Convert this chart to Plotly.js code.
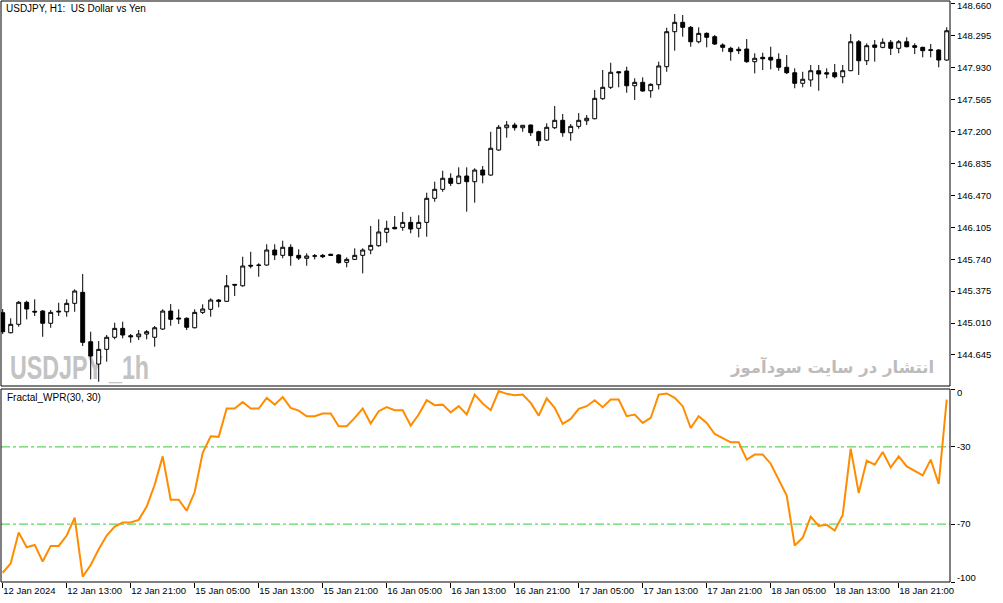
<!DOCTYPE html>
<html>
<head>
<meta charset="utf-8">
<script src="https://cdn.plot.ly/plotly-3.0.1.min.js"></script>
<style>html,body{margin:0;padding:0;background:#fff;}#chart{width:1003px;height:603px;}</style>
</head>
<body>
<div id="chart"></div>
<script>
// ---- data ----
const open = [145.128,144.899,144.995,145.247,145.144,145.147,145.007,145.136,145.139,145.235,
145.361,144.796,144.541,144.709,144.847,144.949,144.865,144.853,144.884,144.847,
144.941,145.147,145.067,145.064,144.956,145.132,145.167,145.273,145.258,145.452,
145.436,145.670,145.673,145.673,145.845,145.784,145.876,145.784,145.750,145.774,
145.784,145.796,145.788,145.704,145.738,145.784,145.845,145.894,146.047,146.104,
146.104,146.161,146.093,146.161,146.436,146.539,146.665,146.607,146.691,146.626,
146.759,146.702,146.988,147.243,147.274,147.243,147.274,147.197,147.102,147.243,
147.328,147.186,147.259,147.323,147.346,147.575,147.705,147.883,147.891,147.723,
147.762,147.666,147.735,147.941,148.341,148.448,148.391,148.226,148.322,148.284,
148.189,148.151,148.140,148.143,147.998,148.048,148.048,148.025,147.934,147.872,
147.751,147.789,147.895,147.872,147.872,147.826,147.895,148.226,148.009,148.189,
148.162,148.220,148.151,148.226,148.181,148.162,148.135,148.132,148.017];
const high = [145.170,145.064,145.262,145.265,145.281,145.159,145.159,145.242,145.281,145.395,
145.570,144.911,144.804,144.873,145.013,145.025,144.884,144.930,144.930,144.976,
145.167,145.227,145.167,145.075,145.167,145.224,145.292,145.284,145.559,145.456,
145.768,145.825,145.693,145.910,145.910,145.951,145.910,145.853,145.807,145.799,
145.799,145.802,145.799,145.761,145.864,145.864,146.119,146.196,146.180,146.234,
146.279,146.225,146.242,146.500,146.626,146.751,146.722,146.790,146.790,146.779,
146.805,147.197,147.274,147.320,147.300,147.274,147.278,147.209,147.293,147.491,
147.400,147.285,147.411,147.388,147.674,147.903,147.986,147.885,147.941,147.808,
147.819,147.751,147.998,148.386,148.543,148.532,148.406,148.391,148.334,148.303,
148.208,148.169,148.169,148.257,148.094,148.101,148.169,148.094,148.074,147.922,
147.883,147.960,147.960,147.922,147.971,147.960,148.314,148.246,148.208,148.246,
148.265,148.246,148.246,148.277,148.208,148.169,148.200,148.140,148.391];
const low = [144.884,144.892,144.968,145.052,145.090,144.853,144.956,145.090,145.082,145.139,
144.747,144.366,144.339,144.568,144.824,144.835,144.785,144.816,144.824,144.739,
144.930,144.979,144.999,144.930,144.949,145.113,145.082,145.190,145.254,145.319,
145.425,145.635,145.539,145.665,145.730,145.750,145.665,145.730,145.665,145.738,
145.753,145.776,145.690,145.647,145.730,145.578,145.796,145.882,145.928,146.081,
146.065,146.036,145.990,145.997,146.397,146.511,146.576,146.596,146.283,146.386,
146.607,146.694,146.980,147.129,147.209,147.197,147.148,147.034,147.091,147.228,
147.140,147.094,147.232,147.274,147.339,147.563,147.686,147.705,147.643,147.560,
147.655,147.586,147.680,147.883,148.124,148.284,148.169,148.208,148.162,148.189,
148.112,148.009,148.086,147.986,147.865,147.903,147.911,147.895,147.857,147.694,
147.705,147.712,147.666,147.808,147.808,147.751,147.890,147.846,147.960,147.998,
148.151,148.074,148.094,148.162,148.086,148.048,148.048,147.934,148.009];
const close = [144.911,144.995,145.247,145.170,145.136,145.007,145.132,145.144,145.235,145.376,
144.789,144.633,144.709,144.847,144.949,144.873,144.853,144.884,144.911,144.956,
145.147,145.052,145.058,144.961,145.132,145.170,145.273,145.258,145.436,145.444,
145.662,145.662,145.670,145.845,145.788,145.876,145.780,145.753,145.776,145.778,
145.768,145.784,145.700,145.738,145.784,145.845,145.898,146.051,146.093,146.088,
146.161,146.085,146.161,146.436,146.539,146.665,146.607,146.691,146.626,146.759,
146.702,147.008,147.248,147.274,147.243,147.271,147.186,147.094,147.248,147.328,
147.186,147.259,147.328,147.351,147.579,147.705,147.877,147.872,147.723,147.762,
147.663,147.739,147.949,148.341,148.448,148.391,148.226,148.322,148.277,148.200,
148.162,148.112,148.124,147.998,148.037,148.032,148.017,147.934,147.872,147.751,
147.797,147.895,147.857,147.857,147.826,147.895,148.226,148.009,148.181,148.162,
148.220,148.151,148.226,148.169,148.162,148.124,148.128,148.017,148.352];
const wpr = [-95.2,-90.3,-74.4,-82.0,-80.8,-89.4,-81.3,-81.3,-75.9,-66.6,
-97.2,-91.2,-83.0,-75.9,-71.3,-69.2,-69.2,-67.8,-60.9,-49.6,
-34.9,-57.4,-57.4,-63.1,-53.4,-33.1,-24.5,-24.8,-10.1,-10.1,
-6.7,-10.1,-10.1,-4.6,-8.1,-4.2,-9.8,-11.2,-14.1,-14.1,
-12.7,-12.7,-19.3,-19.3,-15.0,-10.1,-17.9,-11.5,-9.4,-11.0,
-11.0,-19.0,-13.2,-5.8,-8.4,-8.1,-12.1,-8.9,-13.2,-2.9,
-7.5,-11.0,-1.1,-2.5,-3.2,-2.9,-7.2,-13.8,-4.9,-9.8,
-18.1,-15.5,-10.3,-8.9,-5.8,-9.4,-5.5,-5.5,-14.1,-13.2,
-17.6,-15.0,-2.9,-2.3,-4.6,-8.9,-20.2,-14.1,-17.6,-23.3,
-25.4,-27.6,-27.6,-36.6,-34.0,-34.0,-38.7,-47.0,-55.2,-81.1,
-77.0,-66.1,-70.9,-70.4,-73.3,-65.2,-30.9,-53.9,-37.1,-39.2,
-32.6,-40.6,-34.9,-40.1,-42.3,-44.8,-36.6,-49.2,-5.5];
const levels = [-30, -70];
const timeLabels = ['12 Jan 2024','12 Jan 13:00','12 Jan 21:00','15 Jan 05:00','15 Jan 13:00',
'15 Jan 21:00','16 Jan 05:00','16 Jan 13:00','16 Jan 21:00','17 Jan 05:00','17 Jan 13:00',
'17 Jan 21:00','18 Jan 05:00','18 Jan 13:00','18 Jan 21:00'];
const labelEvery = 8;
const priceTicks = ['144.645','145.010','145.375','145.740','146.105','146.470','146.835',
'147.200','147.565','147.930','148.295','148.660'];
const wprTicks = [0, -30, -70, -100];

// ---- build ----
const idx = close.map((_, i) => i);
const tickIdx = timeLabels.map((_, k) => k * labelEvery);

const font = 'Liberation Sans, Arial, sans-serif';
const traces = [
  {
    type: 'candlestick', x: idx, open: open, high: high, low: low, close: close,
    xaxis: 'x', yaxis: 'y',
    increasing: {line: {color: '#000', width: 1}, fillcolor: '#fff'},
    decreasing: {line: {color: '#000', width: 1}, fillcolor: '#000'},
    whiskerwidth: 0, hoverinfo: 'skip', showlegend: false
  },
  {
    type: 'scatter', mode: 'lines', x: idx, y: wpr, xaxis: 'x', yaxis: 'y2',
    line: {color: '#ff8c00', width: 2}, hoverinfo: 'skip', showlegend: false
  }
];

const mainBottom = 196 / 581;
const subTop = 193 / 581;

const shapes = levels.map(v => ({
  type: 'line', xref: 'paper', x0: 0, x1: 1, yref: 'y2', y0: v, y1: v,
  line: {color: '#32cd32', width: 1, dash: 'dashdot'}, layer: 'below'
}));
shapes.push({type: 'rect', xref: 'paper', yref: 'paper', x0: 0, x1: 1, y0: mainBottom, y1: 1,
  line: {color: '#000', width: 1}});
shapes.push({type: 'rect', xref: 'paper', yref: 'paper', x0: 0, x1: 1, y0: 0, y1: subTop,
  line: {color: '#000', width: 1}});

const WM1 = 'USDJPY _1h';
const WM2 = 'انتشار در سایت سودآموز';

const layout = {
  width: 1003, height: 603,
  margin: {l: 1, r: 53, t: 1, b: 21, pad: 0},
  paper_bgcolor: '#fff', plot_bgcolor: '#fff',
  font: {family: font, size: 10, color: '#000'},
  showlegend: false,
  xaxis: {
    anchor: 'y2', range: [-0.2125, 118.41], rangeslider: {visible: false},
    tickvals: tickIdx, ticktext: timeLabels, ticks: 'outside', ticklen: 5,
    tickcolor: '#000', ticklabelposition: 'outside right',
    tickfont: {family: font, size: 9.5, color: '#000'},
    showgrid: false, zeroline: false, showline: false, fixedrange: true
  },
  yaxis: {
    domain: [mainBottom, 1], anchor: 'x', side: 'right', range: [144.290, 148.692],
    tickvals: priceTicks.map(Number), ticktext: priceTicks, ticks: 'outside', ticklen: 4,
    tickcolor: '#000', tickfont: {family: font, size: 9.5, color: '#000'},
    ticklabeloverflow: 'allow',
    showgrid: false, zeroline: false, showline: false
  },
  yaxis2: {
    domain: [0, subTop], anchor: 'x', side: 'right', range: [-100, 0],
    tickvals: wprTicks, ticktext: wprTicks.map(String), ticks: 'outside', ticklen: 4,
    tickcolor: '#000', tickfont: {family: font, size: 9.5, color: '#000'},
    ticklabeloverflow: 'allow',
    showgrid: false, zeroline: false, showline: false
  },
  shapes: shapes,
  annotations: [
    {text: 'USDJPY, H1:  US Dollar vs Yen', xref: 'paper', yref: 'paper', x: 3 / 949, y: (582 - 8) / 581,
     xanchor: 'left', yanchor: 'middle', showarrow: false, font: {family: font, size: 10, color: '#000'}},
    {text: 'Fractal_WPR(30, 30)', xref: 'paper', yref: 'paper', x: 4 / 949, y: (582 - 398) / 581,
     xanchor: 'left', yanchor: 'middle', showarrow: false, font: {family: font, size: 10, color: '#000'}},
    {text: WM1, xref: 'paper', yref: 'paper', x: 7 / 949, y: (582 - 367) / 581,
     xanchor: 'left', yanchor: 'middle', showarrow: false,
     font: {family: 'Liberation Sans, sans-serif', size: 34, weight: 'bold', color: '#c3c3c3'}},
    {text: WM2, xref: 'paper', yref: 'paper', x: 935 / 949, y: (582 - 367) / 581,
     xanchor: 'right', yanchor: 'middle', showarrow: false,
     font: {family: 'DejaVu Sans, sans-serif', size: 16.5, weight: 'bold', color: '#bcbcbc'}}
  ]
};

function nudge(sel, txt, dy) {
  document.querySelectorAll(sel).forEach(function (t) {
    if (t.textContent === txt) {
      const tr = t.getAttribute('transform') || '';
      t.setAttribute('transform', tr + ' translate(0,' + dy + ')');
    }
  });
}

Plotly.newPlot('chart', traces, layout, {staticPlot: true, displayModeBar: false}).then(function () {
  const below = document.querySelector('#chart .layer-below');
  document.querySelectorAll('#chart .annotation-text').forEach(function (t) {
    if (t.textContent === WM1) {
      const bb = t.getBBox();
      t.setAttribute('text-anchor', 'start');
      t.setAttribute('x', bb.x);
      t.style.fontWeight = 'bold';
      t.setAttribute('textLength', '139');
      t.setAttribute('lengthAdjust', 'spacingAndGlyphs');
    }
    if (t.textContent === WM1 || t.textContent === WM2) {
      t.style.fontWeight = 'bold';
      const g = t.closest('.annotation');
      if (below && g) below.appendChild(g);
    }
  });
  // keep edge labels inside their panes, as in the original terminal
  nudge('#chart .ytick text', '148.660', 2);
  nudge('#chart .y2tick text', '0', 4);
  nudge('#chart .y2tick text', '-100', -4);
});
</script>
</body>
</html>
